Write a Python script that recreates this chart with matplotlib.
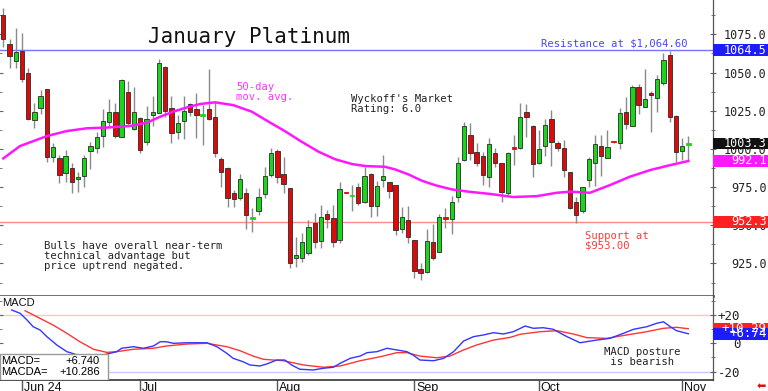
"""January Platinum daily candles with 50-day MA and MACD panel."""

import matplotlib

matplotlib.use("Agg")
import matplotlib.pyplot as plt
import matplotlib.transforms as mtransforms
from matplotlib.patches import Rectangle
import numpy as np

# ------------------------------------------------------------------
# Data (bar index 0 = 29 May 2024, 110 = 4 Nov 2024)
# ------------------------------------------------------------------
opens = [
    1087.7, 1068.5, 1057.5, 1064.1, 1049.5, 1018.9, 1026.6, 1039.0, 994.9, 993.8,
    984.4, 987.7, 980.1, 982.5, 998.6, 1000.4, 1008.4, 1017.8, 1024.0, 1008.0,
    1037.4, 1013.0, 1020.0, 1004.7, 1022.2, 1023.7, 1053.8, 1026.6, 1011.3, 1018.3,
    1029.2, 1025.9, 1021.5, 1026.1, 1020.7, 993.2, 987.7, 970.9, 967.6, 970.9,
    954.1, 959.5, 970.5, 982.9, 998.6, 983.5, 974.2, 928.7, 928.3, 931.6,
    951.3, 939.7, 957.2, 954.5, 940.3, 971.6, 969.0, 975.2, 965.4, 983.5,
    962.6, 979.6, 978.1, 976.3, 947.3, 953.4, 940.3, 921.1, 919.2, 939.2,
    932.7, 955.2, 953.9, 968.3, 992.7, 1009.1, 997.8, 995.3, 981.8, 997.5,
    990.6, 970.9, 1000.6, 1000.4, 1024.0, 1015.0, 990.6, 1001.9, 1019.4, 1003.7,
    1000.8, 984.7, 965.0, 959.5, 979.6, 991.0, 1001.9, 994.2, 1005.0, 1004.0,
    1024.4, 1015.2, 1040.3, 1027.6, 1036.8, 1033.1, 1043.0, 1061.5, 1021.5, 998.8,
    1002.8,
]
highs = [
    1092.1, 1071.8, 1079.0, 1075.7, 1052.8, 1029.9, 1038.6, 1039.5, 1003.7, 996.0,
    999.3, 990.6, 984.7, 996.0, 1004.7, 1010.9, 1025.9, 1032.7, 1030.2, 1045.5,
    1044.5, 1040.7, 1021.1, 1028.1, 1034.6, 1058.7, 1054.5, 1034.6, 1022.2, 1034.6,
    1029.9, 1036.8, 1028.7, 1052.1, 1030.9, 994.9, 988.0, 973.1, 983.5, 974.2,
    961.1, 974.6, 988.3, 1000.4, 999.7, 994.9, 974.5, 942.5, 944.7, 953.4,
    958.2, 963.2, 960.0, 963.2, 978.5, 971.8, 976.3, 977.5, 988.3, 984.0,
    979.0, 996.0, 978.5, 976.5, 962.1, 962.8, 940.5, 925.1, 947.3, 950.8,
    957.2, 961.1, 969.1, 994.9, 1017.8, 1016.8, 1003.7, 998.2, 1006.9, 1000.4,
    991.0, 998.0, 1009.1, 1029.9, 1029.4, 1015.5, 1012.4, 1019.4, 1025.5, 1005.4,
    1005.8, 985.0, 968.3, 975.0, 994.9, 1009.1, 1009.1, 1012.4, 1005.2, 1026.6,
    1034.2, 1041.8, 1042.5, 1052.1, 1038.1, 1048.4, 1062.6, 1064.0, 1022.0, 1006.9,
    1008.4,
]
lows = [
    1066.9, 1052.8, 1052.8, 1044.0, 1018.9, 1013.5, 1022.6, 991.6, 991.6, 977.9,
    978.5, 970.9, 972.0, 975.2, 986.6, 997.5, 1001.4, 1014.5, 1006.9, 1007.5,
    1015.0, 1012.4, 997.1, 1002.5, 1015.2, 1023.3, 1021.1, 1003.7, 1006.5, 1006.5,
    1021.5, 1006.9, 1002.5, 1018.9, 994.9, 975.2, 962.1, 962.1, 966.5, 947.3,
    945.4, 956.7, 967.6, 981.8, 977.5, 971.3, 921.8, 922.8, 926.1, 930.5,
    934.9, 934.9, 948.0, 936.0, 938.6, 971.0, 959.5, 963.2, 964.4, 955.6,
    956.0, 975.2, 967.6, 943.6, 944.7, 938.6, 915.2, 914.1, 918.5, 927.2,
    932.3, 948.0, 944.1, 965.4, 992.3, 992.7, 988.8, 976.3, 975.2, 988.3,
    965.4, 969.8, 989.4, 999.7, 1007.6, 981.4, 990.1, 995.3, 989.0, 998.8,
    981.8, 960.4, 951.7, 958.2, 975.2, 975.9, 982.2, 993.8, 1004.2, 999.7,
    1012.8, 1015.0, 1022.8, 1027.2, 1011.3, 1024.0, 1041.8, 1017.8, 991.6, 992.7,
    992.3,
]
closes = [
    1071.8, 1060.8, 1063.6, 1045.8, 1019.6, 1024.0, 1034.8, 994.9, 1001.0, 982.9,
    995.3, 978.5, 981.8, 993.8, 1001.9, 1007.6, 1018.5, 1024.0, 1008.6, 1045.1,
    1016.8, 1024.0, 999.3, 1019.4, 1024.4, 1056.0, 1025.0, 1010.2, 1017.1, 1025.0,
    1024.4, 1022.2, 1022.8, 1019.4, 997.5, 985.1, 967.6, 967.0, 980.1, 956.7,
    955.2, 968.3, 982.2, 997.1, 981.4, 977.0, 925.1, 930.5, 939.2, 949.0,
    939.2, 955.6, 954.1, 939.2, 973.5, 971.2, 969.6, 964.8, 982.2, 962.8,
    975.7, 982.2, 972.6, 946.9, 955.6, 942.1, 920.2, 918.5, 939.9, 928.3,
    955.6, 953.9, 965.0, 991.0, 1015.2, 997.1, 991.0, 982.9, 1003.0, 991.0,
    972.0, 997.5, 1000.2, 1021.1, 1020.7, 990.1, 999.7, 1015.6, 1004.7, 1000.4,
    986.2, 961.1, 956.7, 974.8, 993.2, 1003.0, 995.3, 1001.4, 1004.4, 1023.3,
    1016.1, 1040.3, 1028.7, 1032.5, 1035.3, 1045.6, 1058.2, 1020.7, 998.2, 1001.9,
    1003.3,
]

# 50-day moving average, sampled along the drawn line
ma_idx = [0, 2.7, 7.0, 10.2, 13.4, 17.1, 20.3, 23.0, 25.2, 27.3, 29.5, 31.6, 34.0,
          36.9, 39.9, 42.6, 45.2, 47.9, 50.6, 53.3, 56.0, 58.1, 61.3, 62.9, 65.0,
          67.2, 69.3, 72.0, 74.7, 78.2, 81.9, 85.7, 88.9, 91.0, 94.2, 97.4, 100.6,
          103.9, 107.1, 110]
ma_val = [993.8, 1001.9, 1008.4, 1011.7, 1013.5, 1014.1, 1015.0, 1017.1, 1021.1,
          1024.4, 1027.2, 1029.4, 1030.5, 1028.7, 1024.4, 1017.8, 1011.7, 1004.7,
          998.2, 993.2, 990.1, 988.8, 988.3, 986.6, 983.4, 979.2, 976.3, 973.5,
          972.0, 970.5, 968.5, 969.1, 971.3, 972.0, 971.3, 976.3, 981.8, 986.2,
          989.4, 992.1]

# MACD (blue) and MACDA signal (red)
macd_idx = [1.35, 2.7, 3.8, 4.8, 5.9, 7.0, 8.6, 10.2, 12.5, 14.8, 17.1, 18.2, 19.0,
            20.9, 22.5, 24.1, 25.2, 26.2, 27.3, 29.5, 32.7, 34.3, 35.9, 36.9, 38.5,
            39.6, 41.2, 42.3, 43.9, 45.2, 46.3, 47.6, 49.8, 51.4, 53.0, 54.1, 55.7,
            57.3, 58.4, 60.0, 61.6, 63.2, 64.8, 65.8, 66.9, 69.1, 70.7, 72.3, 73.9,
            75.5, 77.1, 78.7, 80.3, 81.9, 83.8, 85.1, 86.7, 88.3, 90.5, 92.6, 95.3,
            97.4, 99.6, 101.2, 103.3, 104.9, 106.0, 107.1, 108.1, 110]
macd_val = [23.5, 21.2, 16.5, 11.7, 9.4, 4.7, -1.2, -5.9, -9.0, -9.5, -7.1, -5.9,
            -3.5, -2.4, -3.5, -1.9, 1.1, 1.1, 0.0, 0.4, 0.4, -2.4, -7.1, -10.6,
            -13.0, -15.3, -16.0, -14.6, -11.8, -11.8, -15.3, -18.3, -18.8, -17.6,
            -16.9, -14.1, -10.6, -9.0, -6.6, -5.9, -3.5, -4.7, -5.9, -8.3, -11.8,
            -12.3, -10.6, -5.9, 1.6, 4.7, 5.9, 7.5, 6.6, 8.2, 12.2, 10.6, 11.0, 9.9,
            4.7, 0.4, 2.3, 3.5, 7.1, 9.9, 11.7, 14.1, 15.2, 11.7, 8.9, 6.74]
sig_idx = [3.5, 5.9, 8.0, 10.2, 12.3, 14.5, 16.6, 18.2, 20.9, 24.1, 26.2, 29.5,
           32.7, 35.9, 38.0, 40.1, 41.8, 45.0, 48.2, 51.4, 54.1, 57.3, 60.5, 63.2,
           64.8, 66.9, 69.6, 71.7, 73.9, 76.0, 78.7, 81.4, 83.0, 86.2, 88.9, 91.5,
           93.7, 96.9, 100.1, 103.3, 106.0, 108.1, 110]
sig_val = [23.0, 17.6, 12.9, 7.1, 1.1, -4.2, -6.4, -5.9, -4.2, -3.5, -1.9, -0.5,
           0.0, -2.4, -5.2, -9.0, -11.3, -12.3, -15.3, -16.9, -16.0, -12.3, -9.5,
           -6.6, -6.6, -9.0, -10.2, -9.0, -4.7, -1.2, 2.3, 4.2, 6.4, 8.2, 8.9, 6.6,
           4.0, 3.5, 5.9, 8.2, 10.6, 11.3, 10.286]

month_idx = [3, 22, 44, 66, 86, 109]
month_labels = ["Jun 24", "Jul", "Aug", "Sep", "Oct", "Nov"]

price_ticks = [925, 950, 975, 1000, 1025, 1050, 1075]
resistance = 1064.5
support = 952.3
last_close = 1003.3
last_ma = 992.1
last_macd = 6.74
last_macda = 10.29

GREEN = "#19d619"
RED = "#dd0a0a"
WICK = "#8a8a8a"
MONO = "DejaVu Sans Mono"
SANS = "Liberation Sans"

# ------------------------------------------------------------------
W, H = 768, 391
AX_R = 713.3
fig = plt.figure(figsize=(W / 100, H / 100), dpi=100)
ax = fig.add_axes([0, 1 - 296 / H, AX_R / W, 296 / H])
ax2 = fig.add_axes([0, 1 - 380 / H, AX_R / W, 84 / H])

x_lo, x_hi = -0.53, 114.0
idx = np.arange(len(closes))
o = np.array(opens)
c = np.array(closes)
up = c >= o
face = np.where(up, GREEN, RED)
small = np.abs(c - o) < 1.5
edge = np.where(small, face, "#2a2a2a")

# candles
ax.vlines(idx, lows, highs, color=WICK, linewidth=1.0, zorder=2)
ax.bar(idx, np.maximum(np.abs(c - o), 0.8), bottom=np.minimum(o, c), width=0.7,
       color=face, edgecolor=edge, linewidth=0.6, zorder=3)

ax.plot(ma_idx, ma_val, color="#ff18ff", linewidth=1.8, zorder=4)
ax.axhline(resistance, color="#7474ff", linewidth=1.0, zorder=1)
ax.axhline(support, color="#ff8888", linewidth=1.0, zorder=1)

ax.set_xlim(x_lo, x_hi)
ax.set_ylim(903.7, 1097.5)
ax.set_xticks([])

for s in ("top", "left"):
    ax.spines[s].set_visible(False)
ax.spines["bottom"].set_color("#444444")
ax.spines["bottom"].set_linewidth(1.8)
ax.spines["right"].set_color("#555555")
ax.spines["right"].set_linewidth(0.9)

ax.set_yticks(price_ticks)
ax.set_yticks(np.arange(912.5, 1097, 12.5), minor=True)
ax.set_yticklabels([f"{t:.1f}" for t in price_ticks], family=MONO, fontsize=8.5,
                   color="#222222")
ax.tick_params(axis="y", which="both", left=True, right=True, labelleft=False,
               labelright=True, direction="inout", color="#666666")
ax.tick_params(axis="y", which="major", length=5, pad=36)
ax.tick_params(axis="y", which="minor", length=3)
for lab in ax.get_yticklabels():
    lab.set_horizontalalignment("right")

tag_x0, tag_w = 1.0, (W - AX_R) / AX_R


def value_tag(axis, value, text, color, half, size=8.5):
    tr = mtransforms.blended_transform_factory(axis.transAxes, axis.transData)
    axis.add_patch(Rectangle((tag_x0, value - half), tag_w, 2 * half, transform=tr,
                             facecolor=color, edgecolor="none", clip_on=False,
                             zorder=10))
    axis.text(766.5 / AX_R, value, text, transform=tr, ha="right", va="center",
              color="white", family=MONO, fontsize=size, clip_on=False, zorder=11)


value_tag(ax, resistance, f"{resistance:.1f}", "#1c1cff", 3.9)
value_tag(ax, last_close, f"{last_close:.1f}", "#111111", 3.6)
value_tag(ax, last_ma, f"{last_ma:.1f}", "#ff18ff", 4.0)
value_tag(ax, support, f"{support:.1f}", "#ff2020", 3.9)

# annotations (positions in panel pixels)
def at(px, py):
    return px / AX_R, 1 - py / 296


ax.text(*at(148, 37), "January Platinum", transform=ax.transAxes, family=MONO,
        fontsize=15, va="center", ha="left", color="#111111")
ax.text(*at(541, 44), "Resistance at $1,064.60", transform=ax.transAxes,
        family=MONO, fontsize=7.6, va="center", color="#4646ff")
ax.text(*at(236, 82), "50-day\nmov. avg.", transform=ax.transAxes, family=MONO,
        fontsize=7.6, va="top", color="#ff33ff", linespacing=1.0)
ax.text(*at(351, 94), "Wyckoff's Market\nRating: 6.0", transform=ax.transAxes,
        family=MONO, fontsize=7.6, va="top", color="#222222", linespacing=1.0)
ax.text(*at(44, 241), "Bulls have overall near-term\ntechnical advantage but\n"
        "price uptrend negated.", transform=ax.transAxes, family=MONO,
        fontsize=7.6, va="top", color="#222222", linespacing=1.0)
ax.text(*at(585, 231), "Support at\n$953.00", transform=ax.transAxes, family=MONO,
        fontsize=7.6, va="top", color="#ff3a3a", linespacing=1.0)

# ------------------------------------------------------------------
# MACD panel
# ------------------------------------------------------------------
ax2.axhline(20, color="#ffc4c4", linewidth=1.0, zorder=1)
ax2.axhline(-20, color="#c8c8ff", linewidth=1.0, zorder=1)
ax2.plot(macd_idx, macd_val, color="#3535ff", linewidth=1.0, zorder=3)
ax2.plot(sig_idx, sig_val, color="#ff3535", linewidth=1.0, zorder=2)
ax2.set_xlim(x_lo, x_hi)
ax2.set_ylim(-25.9, 33.4)

for s in ("top", "left"):
    ax2.spines[s].set_visible(False)
ax2.spines["bottom"].set_color("#333333")
ax2.spines["bottom"].set_linewidth(1.2)
ax2.spines["right"].set_color("#555555")
ax2.spines["right"].set_linewidth(0.9)

ax2.set_yticks([-20, 0, 20])
ax2.set_yticks([-10, 10, 30], minor=True)
ax2.set_yticklabels(["-20", "0", "+20"], family=MONO, fontsize=9, color="#222222")
ax2.tick_params(axis="y", which="both", left=True, right=True, labelleft=False,
                labelright=True, direction="inout", color="#666666")
ax2.tick_params(axis="y", which="major", length=5, pad=17)
ax2.tick_params(axis="y", which="minor", length=3)
for lab in ax2.get_yticklabels():
    lab.set_horizontalalignment("right")

ax2.set_xticks(month_idx)
ax2.tick_params(axis="x", length=8, width=1.0, color="#555555", direction="out",
                labelbottom=False)
tr_x = mtransforms.blended_transform_factory(ax2.transData, ax2.transAxes)
for m, lab in zip(month_idx, month_labels):
    ax2.text(m + 0.3, -0.02, lab, transform=tr_x, ha="left", va="top",
             family=SANS, fontsize=9, color="#111111", clip_on=False)

value_tag(ax2, last_macda, f"+{last_macda:.2f}", "#ff2020", 4.2, size=9)
value_tag(ax2, last_macd, f"+{last_macd:.2f}", "#1c1cff", 4.2, size=9)

ax2.text(2 / AX_R, 0.976, "MACD", transform=ax2.transAxes, family=SANS, fontsize=8,
         va="top", ha="left", color="#111111")
ax2.add_patch(Rectangle((0, 0), 108.3 / AX_R, 25.7 / 84, transform=ax2.transAxes,
                        facecolor="white", edgecolor="#999999", linewidth=1.0,
                        zorder=5))
ax2.text(1 / AX_R, 0.225, "MACD=", transform=ax2.transAxes, family=SANS, fontsize=8,
         va="center", zorder=6)
ax2.text(100 / AX_R, 0.225, f"+{last_macd:.3f}", transform=ax2.transAxes,
         family=SANS, fontsize=8, va="center", ha="right", zorder=6)
ax2.text(1 / AX_R, 0.095, "MACDA=", transform=ax2.transAxes, family=SANS,
         fontsize=8, va="center", zorder=6)
ax2.text(100 / AX_R, 0.095, "+10.286", transform=ax2.transAxes, family=SANS,
         fontsize=8, va="center", ha="right", zorder=6)
ax2.text(604 / AX_R, (380 - 347) / 84, "MACD posture\n is bearish",
         transform=ax2.transAxes, family=MONO, fontsize=7.6, va="top",
         color="#222222", linespacing=1.0)

fig.text(761 / W, 1 - 386.5 / H, "\u2b05", color="#e01010", fontsize=8,
         ha="center", va="center", family="DejaVu Sans")

fig.savefig("out.png", dpi=100)
